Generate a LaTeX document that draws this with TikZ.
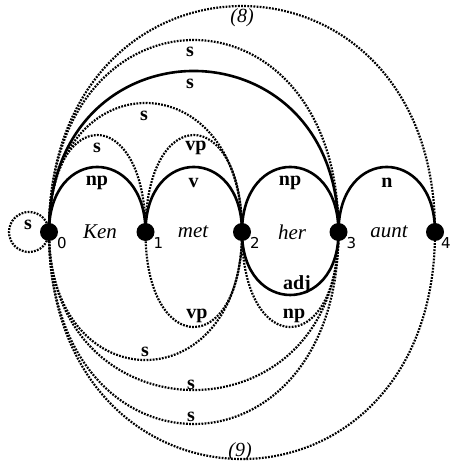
\documentclass[tikz,border=0pt]{standalone}
\usepackage{fontspec}
\setmainfont{Liberation Serif}
\newfontfamily\numfont{DejaVu Sans}
\begin{document}
\begin{tikzpicture}[x=1pt,y=1pt,
  vert/.style={circle,fill=black,minimum size=18pt,inner sep=0pt},
  solidarc/.style={line width=2.6pt},
  dotarc/.style={line width=2.2pt,line cap=butt,dash pattern=on 1.8pt off 1.3pt},
  lab/.style={font=\fontsize{20}{22}\selectfont\bfseries,inner sep=0pt},
  word/.style={font=\fontsize{21}{23}\selectfont\itshape,inner sep=0pt},
  num/.style={font=\fontsize{15}{17}\selectfont\numfont,inner sep=0pt},
  big/.style={font=\fontsize{20}{22}\selectfont\itshape,inner sep=0pt}]
\useasboundingbox (0,0) rectangle (451,463);
% vertices
\node[vert] (n0) at (49,231) {};
\node[vert] (n1) at (145.5,231) {};
\node[vert] (n2) at (242,231) {};
\node[vert] (n3) at (338.5,231) {};
\node[vert] (n4) at (435,231) {};
% vertex numbers
\node[num] (k0) at (62,220) {0};
\node[num] (k1) at (158.5,220) {1};
\node[num] (k2) at (255,220) {2};
\node[num] (k3) at (351.5,220) {3};
\node[num] (k4) at (446,220) {4};
% words
\node[word] (w0) at (100,231) {Ken};
\node[word] (w1) at (193,231) {met};
\node[word] (w2) at (292,231) {her};
\node[word] (w3) at (389,231) {aunt};
% upper solid arcs
\draw[solidarc] (n0.center) .. controls +(0,86.7) and +(0,86.7) .. (n1.center);
\draw[solidarc] (n1.center) .. controls +(0,86.7) and +(0,86.7) .. (n2.center);
\draw[solidarc] (n2.center) .. controls +(0,86.7) and +(0,86.7) .. (n3.center);
\draw[solidarc] (n3.center) .. controls +(0,86.7) and +(0,86.7) .. (n4.center);
\draw[solidarc] (n0.center) .. controls +(0,214.7) and +(0,214.7) .. (n3.center);
% upper dotted arcs
\draw[dotarc] (n0.center) .. controls +(0,129.3) and +(0,129.3) .. (n1.center);
\draw[dotarc] (n1.center) .. controls +(0,129.3) and +(0,129.3) .. (n2.center);
\draw[dotarc] (n0.center) .. controls +(0,172) and +(0,172) .. (n2.center);
\draw[dotarc] (n0.center) .. controls +(0,256) and +(0,256) .. (n3.center);
\draw[dotarc] (n0.center) .. controls +(0,301.3) and +(0,301.3) .. (n4.center);
% lower arcs
\draw[solidarc] (n2.center) .. controls +(0,-84) and +(0,-84) .. (n3.center);
\draw[dotarc] (n1.center) .. controls +(0,-126.7) and +(0,-126.7) .. (n2.center);
\draw[dotarc] (n2.center) .. controls +(0,-126.7) and +(0,-126.7) .. (n3.center);
\draw[dotarc] (n0.center) .. controls +(0,-170.7) and +(0,-170.7) .. (n2.center);
\draw[dotarc] (n0.center) .. controls +(0,-210.7) and +(0,-210.7) .. (n3.center);
\draw[dotarc] (n0.center) .. controls +(0,-256) and +(0,-256) .. (n3.center);
\draw[dotarc] (n0.center) .. controls +(0,-302.7) and +(0,-302.7) .. (n4.center);
% self loop
\draw[dotarc] (n0.center) arc[start angle=0,end angle=360,radius=20pt];
% arc labels
\node[lab] (l1) at (97,280) {np};
\node[lab] (l2) at (193.5,280) {v};
\node[lab] (l3) at (290,280) {np};
\node[lab] (l4) at (387,280) {n};
\node[lab] (l5) at (97,315) {s};
\node[lab] (l6) at (196,315) {vp};
\node[lab] (l7) at (144,347) {s};
\node[lab] (l8) at (190,379) {s};
\node[lab] (l9) at (190,411) {s};
\node[big] (l10) at (242,445) {(8)};
\node[lab] (l11) at (297,178) {adj};
\node[lab] (l12) at (197,147) {vp};
\node[lab] (l13) at (294,147) {np};
\node[lab] (l14) at (145,111) {s};
\node[lab] (l15) at (191,78) {s};
\node[lab] (l16) at (191,46) {s};
\node[big] (l17) at (240,11) {(9)};
\node[lab] (l18) at (28,238) {s};
\end{tikzpicture}
\end{document}
